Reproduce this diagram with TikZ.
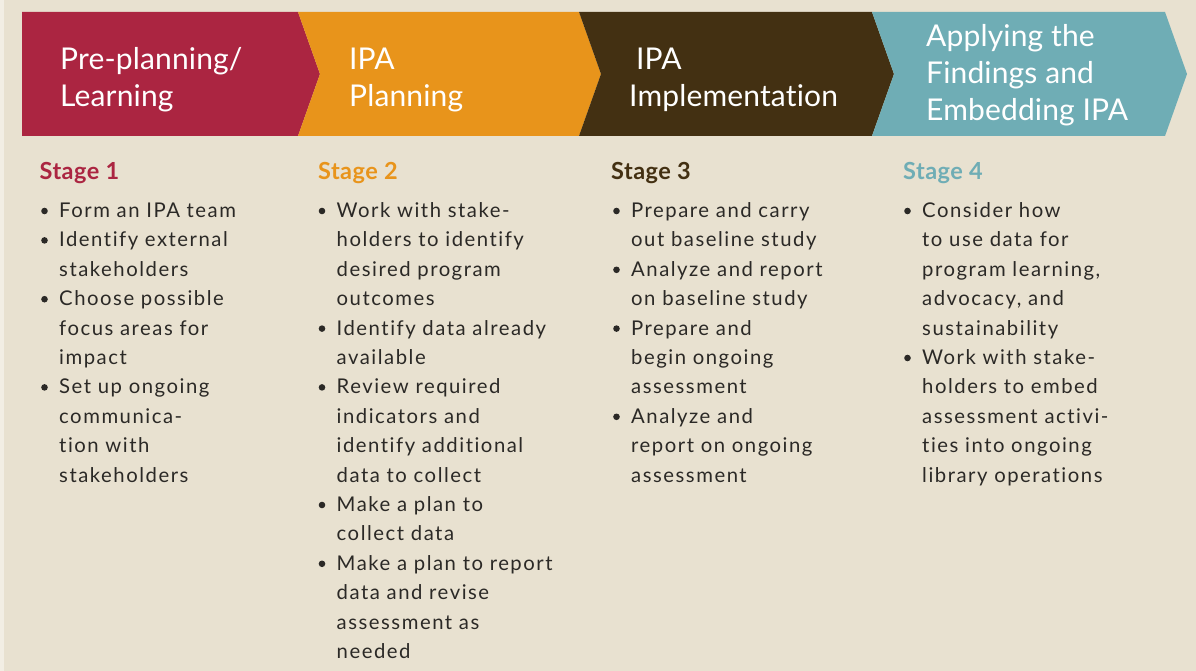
\documentclass[tikz,border=0pt]{standalone}
\usepackage{fontspec}
\newfontfamily\bodyfont{Lato}[LetterSpace=7.5, Ligatures=NoCommon]
\newfontfamily\stagefont{Lato}[LetterSpace=2, Ligatures=NoCommon]
\newfontfamily\headfont{Lato}[LetterSpace=0.5, Ligatures=NoCommon]
\definecolor{bg}{HTML}{E8E1D0}
\definecolor{edge}{HTML}{F2EEE4}
\definecolor{cred}{HTML}{AB2541}
\definecolor{corange}{HTML}{E8941B}
\definecolor{cbrown}{HTML}{433012}
\definecolor{cteal}{HTML}{6FADB5}
\definecolor{textc}{HTML}{2B2926}
\tikzset{
  headtext/.style={text=white, inner sep=0pt, anchor=base west, font=\headfont\fontsize{30}{37}\selectfont},
  stagehead/.style={inner sep=0pt, anchor=base west, font=\stagefont\bfseries\fontsize{23.5}{29}\selectfont},
  bodytext/.style={text=textc, inner sep=0pt, anchor=base west, font=\bodyfont\fontsize{20.3}{29.4}\selectfont},
}
\newcommand\stagecol[3]{%
  \foreach \k/\t [count=\i from 0] in {#3} {
    \node[bodytext] (#1-\i) at (#2, {217.5+29.4*\i}) {\t};
    \if\k b\fill[textc] (#2-14.5, {217.5+29.4*\i-6.5}) circle[radius=3.3pt];\fi
  }%
}
\begin{document}
\begin{tikzpicture}[x=1pt, y=-1pt]
\useasboundingbox (0,0) rectangle (1196,671);
\fill[bg] (0,0) rectangle (1196,671);
\fill[edge] (0,0) rectangle (4,671);
% chevrons
\fill[cred] (22,12) -- (298,12) -- (320,74) -- (298,136) -- (22,136) -- cycle;
\fill[corange] (298,12) -- (579,12) -- (601,74) -- (579,136) -- (298,136) -- (320,74) -- cycle;
\fill[cbrown] (579,12) -- (872,12) -- (894,74) -- (872,136) -- (579,136) -- (601,74) -- cycle;
\fill[cteal] (872,12) -- (1165,12) -- (1187,74) -- (1165,136) -- (872,136) -- (894,74) -- cycle;
% headers
\node[headtext] (h1a) at (60,70) {Pre-planning/};
\node[headtext] (h1b) at (60,106.5) {Learning};
\node[headtext] (h2a) at (349,70) {IPA};
\node[headtext] (h2b) at (349,106.5) {Planning};
\node[headtext] (h3a) at (636,70) {IPA};
\node[headtext] (h3b) at (629,106.5) {Implementation};
\node[headtext] (h4a) at (926,47) {Applying the};
\node[headtext] (h4b) at (926,84) {Findings and};
\node[headtext] (h4c) at (926,121) {Embedding IPA};
% stage headings
\node[stagehead, text=cred] (s1) at (39.5,179) {Stage 1};
\node[stagehead, text=corange] (s2) at (318,179) {Stage 2};
\node[stagehead, text=cbrown] (s3) at (611,179) {Stage 3};
\node[stagehead, text=cteal] (s4) at (903,179) {Stage 4};
% bodies
\stagecol{a}{59}{b/Form an IPA team, b/Identify external, n/stakeholders, b/Choose possible, n/focus areas for, n/impact, b/Set up ongoing, n/communica-, n/tion with, n/stakeholders}
\stagecol{b}{336.5}{b/Work with stake-, n/holders to identify, n/desired program, n/outcomes, b/Identify data already, n/available, b/Review required, n/indicators and, n/identify additional, n/data to collect, b/Make a plan to, n/collect data, b/Make a plan to report, n/data and revise, n/assessment as, n/needed}
\stagecol{c}{631}{b/Prepare and carry, n/out baseline study, b/Analyze and report, n/on baseline study, b/Prepare and, n/begin ongoing, n/assessment, b/Analyze and, n/report on ongoing, n/assessment}
\stagecol{d}{922}{b/Consider how, n/to use data for, n/{program learning,}, n/{advocacy, and}, n/sustainability, b/Work with stake-, n/holders to embed, n/assessment activi-, n/ties into ongoing, n/library operations}
\end{tikzpicture}
\end{document}
